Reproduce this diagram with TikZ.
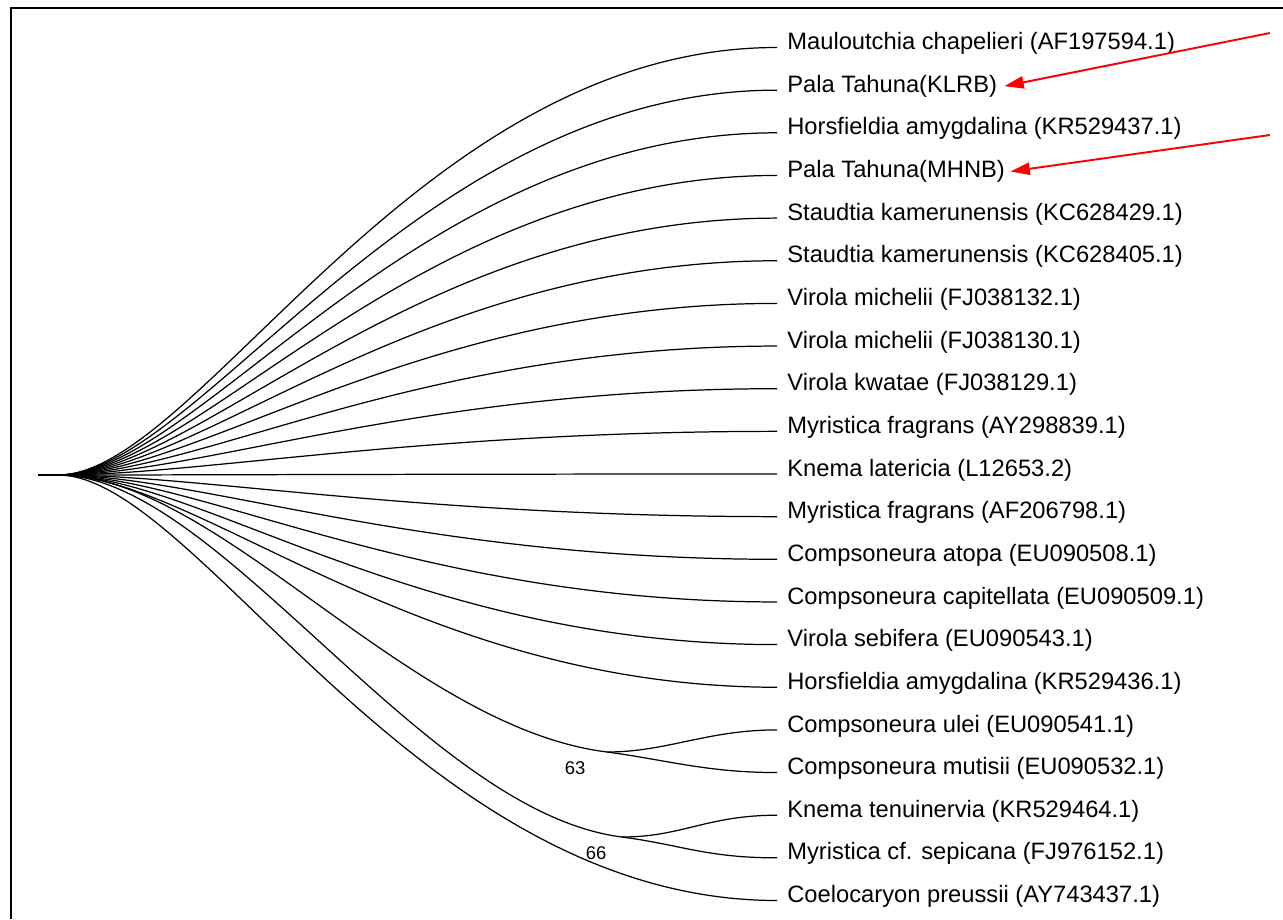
\documentclass[tikz,border=0pt]{standalone}
\usepackage{fontspec}
\setmainfont{Liberation Sans}
\usetikzlibrary{arrows.meta, calc}

\begin{document}
\begin{tikzpicture}[x=0.02cm, y=-0.02cm] % 1 unit = 1 px of the figure

        % Couleurs
        \definecolor{arrowred}{RGB}{255, 0, 0}
        \tikzset{
            branch/.style={black, line width=0.7pt},
            leaf/.style={anchor=west, inner sep=0pt, font=\fontsize{13.5}{15}\selectfont},
            boot/.style={inner sep=0pt, font=\fontsize{10.5}{12}\selectfont},
            pointer/.style={arrowred, line width=1.1pt, -{Triangle[length=11pt, width=7pt]}}
        }

        \useasboundingbox (0,0) rectangle (1283,919);

        % Cadre
        \draw[line width=1.7pt] (11,919) -- (11,8) -- (1283,8);

        % Racine
        \coordinate (stem) at (38,475);
        \coordinate (root) at (58,475);
        \draw[branch] (stem) -- (root);

        % Feuilles
        \foreach \i/\name in {1/{Mauloutchia chapelieri (AF197594.1)}, 2/{Pala Tahuna(KLRB)},
                3/{Horsfieldia amygdalina (KR529437.1)}, 4/{Pala Tahuna(MHNB)},
                5/{Staudtia kamerunensis (KC628429.1)}, 6/{Staudtia kamerunensis (KC628405.1)},
                7/{Virola michelii (FJ038132.1)}, 8/{Virola michelii (FJ038130.1)},
                9/{Virola kwatae (FJ038129.1)}, 10/{Myristica fragrans (AY298839.1)},
                11/{Knema latericia (L12653.2)}, 12/{Myristica fragrans (AF206798.1)},
                13/{Compsoneura atopa (EU090508.1)}, 14/{Compsoneura capitellata (EU090509.1)},
                15/{Virola sebifera (EU090543.1)}, 16/{Horsfieldia amygdalina (KR529436.1)},
                17/{Compsoneura ulei (EU090541.1)}, 18/{Compsoneura mutisii (EU090532.1)},
                19/{Knema tenuinervia (KR529464.1)}, 20/{Myristica cf. sepicana (FJ976152.1)},
                21/{Coelocaryon preussii (AY743437.1)}} {
            \coordinate (t\i) at (777, {47.5+(\i-1)*42.65});
            \node[leaf] (l\i) at (787, {43.5+(\i-1)*42.65}) {\name};
        }

        % Branches
        \foreach \i in {1,...,16,21} {
            \draw[branch] (root) .. controls ($(root)+(140,0)$) and ($(t\i)+(-360,0)$) .. (t\i);
        }

        % Clades 63 et 66
        \coordinate (n63) at (607,752);
        \coordinate (n66) at (622,837);
        \draw[branch] (root) .. controls ($(root)+(160,0)$) and ($(n63)+(-200,-25)$) .. (n63);
        \draw[branch] (root) .. controls ($(root)+(160,0)$) and ($(n66)+(-200,-25)$) .. (n66);
        \foreach \a/\b/\s in {n63/t17/0, n63/t18/8, n66/t19/0, n66/t20/8} {
            \draw[branch] (\a) .. controls ($(\a)+(60,\s)$) and ($(\b)+(-70,0)$) .. (\b);
        }
        \node[boot] (b63) at (575,768) {63};
        \node[boot] (b66) at (596,853) {66};

        % Fleches
        \coordinate (p1) at (1270,33);
        \coordinate (p2) at (1270,135);
        \draw[pointer] (p1) -- ([xshift=4pt]l2.east);
        \draw[pointer] (p2) -- ([xshift=3pt]l4.east);

    \end{tikzpicture}
\end{document}
